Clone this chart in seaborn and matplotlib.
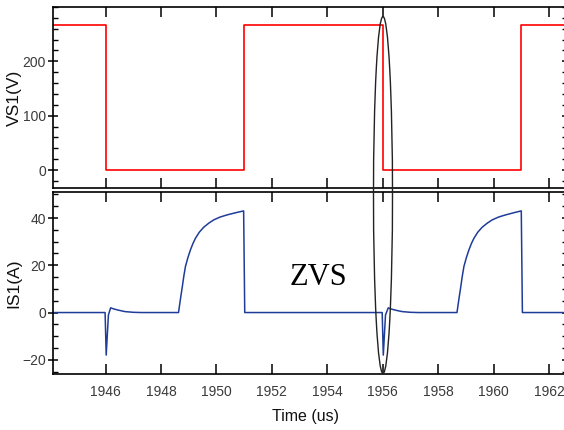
import matplotlib
matplotlib.use("Agg")
import matplotlib.pyplot as plt
from matplotlib.patches import Ellipse
from matplotlib.ticker import MultipleLocator
import seaborn as sns
import pandas as pd

# ---- data ----
vs_time = [1944.1, 1946.0, 1946.0, 1951.0, 1951.0, 1956.0, 1956.0, 1961.0, 1961.0, 1962.7]
vs_volt = [266, 266, 0, 0, 266, 266, 0, 0, 266, 266]

is_time = [1944.1, 1945.98, 1946.02, 1946.1, 1946.18, 1946.3, 1946.5, 1946.7, 1947.0, 1947.3,
           1948.63, 1948.70, 1948.76, 1948.82, 1948.88, 1948.97, 1949.06, 1949.15, 1949.24,
           1949.38, 1949.54, 1949.72, 1949.90, 1950.13, 1950.38, 1950.68, 1950.98, 1951.02,
           1955.98, 1956.02, 1956.1, 1956.2, 1956.3, 1956.5, 1956.7, 1957.0, 1957.3,
           1958.68, 1958.75, 1958.81, 1958.87, 1958.93, 1959.02, 1959.11, 1959.20, 1959.29,
           1959.43, 1959.59, 1959.77, 1959.95, 1960.18, 1960.43, 1960.72, 1961.0, 1961.04,
           1962.7]
is_amp = [0, 0, -18, -1, 2.0, 1.5, 0.9, 0.4, 0.1, 0,
          0, 5.8, 10.4, 15.3, 19.5, 23.3, 26.5, 29.2, 31.4,
          34.0, 36.1, 37.8, 39.2, 40.4, 41.3, 42.2, 43.0, 0,
          0, -18, -1, 2.0, 1.5, 0.9, 0.4, 0.1, 0,
          0, 5.8, 10.4, 15.3, 19.5, 23.3, 26.5, 29.2, 31.4,
          34.0, 36.1, 37.8, 39.2, 40.4, 41.3, 42.2, 43.0, 0,
          0]

x_ticks = [1946, 1948, 1950, 1952, 1954, 1956, 1958, 1960, 1962]
vs_ticks = [0, 100, 200]
is_ticks = [-20, 0, 20, 40]

vs_df = pd.DataFrame({"t": vs_time, "v": vs_volt})
is_df = pd.DataFrame({"t": is_time, "i": is_amp})

sns.set_theme(style="ticks")
plt.rcParams["font.family"] = ["Liberation Sans", "DejaVu Sans"]

W, H = 564, 430
fig = plt.figure(figsize=(W / 100, H / 100), dpi=100)

def px_axes(l, t, r, b):
    return fig.add_axes([l / W, 1 - b / H, (r - l) / W, (b - t) / H])

ax1 = px_axes(53, 7, 567, 188)
ax2 = px_axes(53, 192, 567, 374)

sns.lineplot(data=vs_df, x="t", y="v", ax=ax1, color="#ff0000", lw=1.2,
             estimator=None, sort=False)
sns.lineplot(data=is_df, x="t", y="i", ax=ax2, color="#1f3c99", lw=1.1,
             estimator=None, sort=False)

for ax in (ax1, ax2):
    ax.set_xlim(1944.1, 1962.65)
    ax.set_xticks(x_ticks)
    for s in ax.spines.values():
        s.set_visible(True)
        s.set_linewidth(1.2)
        s.set_color("black")
    ax.tick_params(axis="x", which="major", direction="in", length=7, width=1.1,
                   top=True, bottom=True, pad=8, colors="black", labelcolor="#3a3a3a",
                   labelsize=10)
    ax.tick_params(axis="y", which="major", direction="inout", length=7, width=1.1,
                   left=True, right=True, pad=1.5, colors="black", labelcolor="#3a3a3a",
                   labelsize=10)
    ax.tick_params(axis="y", which="minor", direction="in", length=3.5, width=1.0,
                   left=True, right=True, colors="black")
    ax.set_facecolor("white")

ax1.set_ylim(-33, 300)
ax1.set_yticks(vs_ticks)
ax1.yaxis.set_minor_locator(MultipleLocator(20))
ax1.tick_params(axis="x", labelbottom=False)
ax1.set_xlabel("")
ax1.set_ylabel("VS1(V)", fontsize=12.5, color="#111111")
ax1.yaxis.set_label_coords(-0.061, 0.5)

ax2.set_ylim(-26, 51)
ax2.set_yticks(is_ticks)
ax2.yaxis.set_minor_locator(MultipleLocator(5))
ax2.set_xlabel("")
ax2.set_ylabel("IS1(A)", fontsize=12.5, color="#111111")
ax2.yaxis.set_label_coords(-0.061, 0.5)

fig.text(306 / W, 1 - 416 / H, "Time (us)", ha="center", va="center",
         fontsize=11.5, color="#111111")

fig.text(318 / W, 1 - 285 / H, "ZVS", ha="center", va="baseline",
         fontsize=22, family=["Liberation Serif", "DejaVu Serif"], color="black")

ell = Ellipse((383 / W, 1 - 195 / H), 19 / W, 357 / H, transform=fig.transFigure,
              fill=False, edgecolor="#222222", lw=1.0, zorder=10)
fig.add_artist(ell)

fig.savefig("out.png", dpi=100, facecolor="white")
